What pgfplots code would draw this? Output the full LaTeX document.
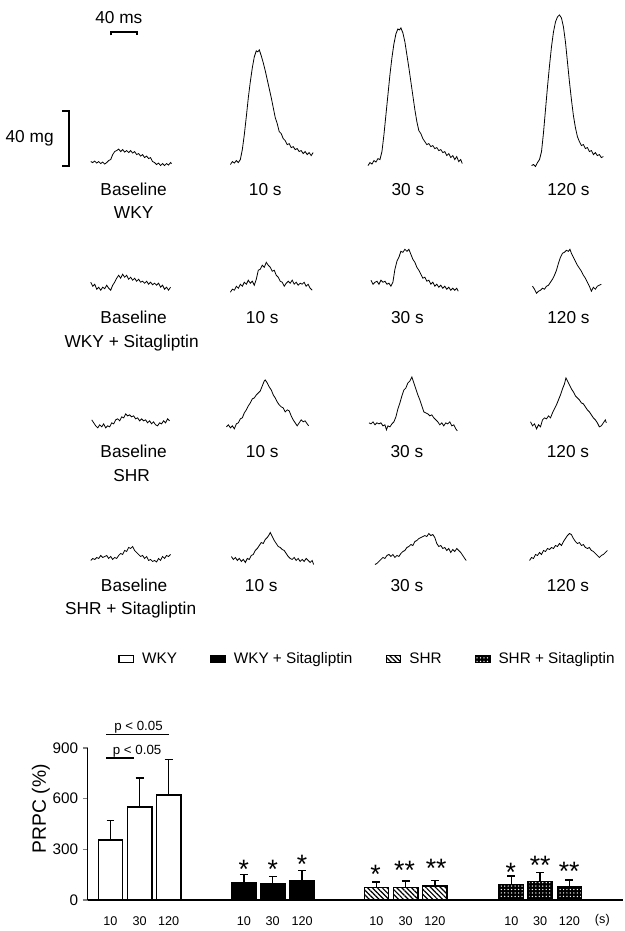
\documentclass[border=0pt]{standalone}
\usepackage{pgfplots}
\pgfplotsset{compat=1.18}
\usetikzlibrary{patterns,patterns.meta}
\usepackage{fontspec}
\setmainfont{Liberation Sans}
\newcommand\lbl{\fontsize{13}{15}\selectfont}
\newcommand\stars{\fontsize{20}{22}\selectfont}
\pgfplotsset{legsym/.style={legend image code/.code={\draw[##1,line width=0.8pt] (0pt,-2.6pt) rectangle (11pt,2.6pt);}}}
\begin{document}
\begin{tikzpicture}
\begin{axis}[at={(0pt,0pt)}, anchor=south west, width=468.75pt, height=698.25pt, scale only axis,
  xmin=0, xmax=625, ymin=0, ymax=931, y dir=reverse, hide axis, clip=false]
\path (axis cs:0,0) rectangle (axis cs:625,931);
% scale bars
\addplot[black, line width=1.5pt, mark=none] coordinates {(111.7,35.5)(111.7,32.3)(137.3,32.3)(137.3,35.5)};
\addplot[black, line width=1.5pt, mark=none] coordinates {(62.3,111.7)(69,111.7)(69,166)(62.3,166)};
\node[font=\lbl, anchor=base] at (axis cs:119.2,23.5) {40 ms};
\node[font=\lbl, anchor=base east] at (axis cs:58.5,143) {40 mg};
% ---------- Row 1: WKY
\addplot[black, line width=0.6pt, mark=none] coordinates {(91,162)(93,163)(95,161.5)(97,163.5)(99,162)(101,164)(103,162.5)(105,164.5)(107,163)(109,161)(111,160)(113,155)(115,152)(117,151)(119,149.5)(121,152)(123,150)(125,152.5)(127,151)(129,153)(131,151)(133,153.5)(135,152)(137,155)(139,154)(141,156.5)(143,155)(145,158)(147,156.5)(149,159)(151,158)(153,162)(155,163)(157,165)(159,163.5)(161,166)(163,164)(165,166)(167,164)(169,165.5)(171,163)(172,164)};
\addplot[black, line width=0.6pt, mark=none] coordinates {(231,165)(233,162)(235,163.5)(237,161)(239,163)(241,160)(243,150)(245,135)(247,117)(249,98)(251,82)(253,68)(255,57)(257,51)(258.5,52)(260,50)(262,56)(264,63)(266,71)(268,80)(270,89)(272,98)(274,108)(276,118)(278,124)(280,132)(282,134)(284,139)(286,141)(288,145)(290,144)(292,148)(294,147)(296,150)(298,149)(300,152)(302,151)(304,154)(306,152)(308,155)(310,153)(312,156)(314,153)};
\addplot[black, line width=0.6pt, mark=none] coordinates {(369,166)(371,163)(373,164.5)(375,161)(377,162.5)(379,159)(381,160)(383,152)(385,135)(387,115)(389,95)(391,75)(393,58)(395,44)(397,34)(399,29)(400.5,30)(402,28)(404,33)(406,42)(408,55)(410,68)(412,82)(414,96)(416,110)(418,122)(420,131)(422,134)(424,139)(426,142)(428,145)(430,144)(432,147)(434,146)(436,149)(438,148)(440,151)(442,150)(444,153)(446,152)(448,156)(450,154)(452,158)(454,156)(456,160)(458,157)(460,162)(462,160)(463.5,164)};
\addplot[black, line width=0.6pt, mark=none] coordinates {(533,166)(535,165)(537,167)(539,163)(541,160)(543,152)(545,133)(547,110)(549,87)(551,66)(553,47)(555,32)(557,22)(559,17)(561,15)(563,18)(565,27)(567,42)(569,62)(571,82)(573,100)(575,116)(577,128)(579,137)(581,142)(583,146)(585,145)(587,149)(589,148)(591,152)(593,151)(595,155)(597,153)(599,156)(601,155)(603,158)(605,157)};
\node[font=\lbl, anchor=base] at (axis cs:134,196.5) {Baseline};
\node[font=\lbl, anchor=base] at (axis cs:134,219.5) {WKY};
\node[font=\lbl, anchor=base] at (axis cs:266,196.5) {10 s};
\node[font=\lbl, anchor=base] at (axis cs:409,196.5) {30 s};
\node[font=\lbl, anchor=base] at (axis cs:570,196.5) {120 s};
% ---------- Row 2: WKY + Sitagliptin
\addplot[black, line width=0.6pt, mark=none] coordinates {(91,283)(93,287)(95,285)(97,290)(99,288)(101,291)(103,288)(105,289.5)(107,286)(109,289)(111,291)(113,286)(115,283)(117,279)(119,276)(121,279)(123,275)(125,278)(127,276)(129,280)(131,278)(133,281)(135,279)(137,282)(139,280)(141,283)(143,282)(145,284)(147,282)(149,285)(151,283)(153,285.5)(155,284)(157,286)(159,284)(161,288)(163,286)(165,290)(167,288)(169,291)(171,288)};
\addplot[black, line width=0.6pt, mark=none] coordinates {(231,293)(233,290)(235,291)(237,287)(239,289)(241,285)(243,287)(245,283)(247,285)(249,281)(251,284)(253,282)(255,286)(257,280)(259,271)(261,270)(263,266)(265,268)(267,263)(269,266)(271,268)(273,272)(275,271)(277,276)(279,278)(281,282)(283,283)(285,287)(287,284)(289,282)(291,284)(293,281)(295,285)(297,283)(299,286)(301,284)(303,285)(305,283)(307,287)(309,285)(311,289)(313,291)};
\addplot[black, line width=0.6pt, mark=none] coordinates {(372,281)(374,285)(376,283)(378,282)(380,285)(382,281)(384,283)(386,282)(388,285)(390,284)(392,287)(394,283)(396,270)(398,262)(400,258)(402,252)(404,253)(406,250)(408,252)(410,250)(412,255)(414,260)(416,263)(418,268)(420,271)(422,275)(424,279)(426,278)(428,282)(430,281)(432,285)(434,283)(436,287)(438,285)(440,288)(442,286)(444,289)(446,287)(448,290)(450,288)(452,291)(454,289)(456,291)(458,289)(459.5,292)};
\addplot[black, line width=0.6pt, mark=none] coordinates {(534,287)(536,290)(538,294)(540,292)(542,291)(544,289)(546,290)(548,287)(550,286)(552,283)(554,280)(556,276)(558,271)(560,264)(562,258)(564,254)(566,253)(568,251)(570,252)(571.5,250)(573,254)(575,258)(577,262)(579,266)(581,269)(583,272)(585,276)(587,279)(589,283)(591,287)(593,292)(595,288)(597,290)(599,287)(601,286)(603,285)};
\node[font=\lbl, anchor=base] at (axis cs:134,324.5) {Baseline};
\node[font=\lbl, anchor=base] at (axis cs:132,348) {WKY + Sitagliptin};
\node[font=\lbl, anchor=base] at (axis cs:263,324.5) {10 s};
\node[font=\lbl, anchor=base] at (axis cs:408.5,324.5) {30 s};
\node[font=\lbl, anchor=base] at (axis cs:570,324.5) {120 s};
% ---------- Row 3: SHR
\addplot[black, line width=0.6pt, mark=none] coordinates {(92,421)(94,424)(96,427)(98,429)(100,426)(102,428)(104,425)(106,429)(108,427)(110,428)(112,424)(114,425)(116,421)(118,420)(120,422)(122,418)(124,419)(126,415)(128,417)(130,416)(132,418)(134,417)(136,420)(138,419)(140,422)(142,420)(144,422)(146,421)(148,424)(150,422)(152,425)(154,423)(156,426)(158,427)(160,424)(162,425)(164,422)(166,424)(168,420)(170,422)};
\addplot[black, line width=0.6pt, mark=none] coordinates {(227,428)(229,426)(231,429)(233,427)(235,430)(237,425)(239,424)(241,420)(243,419)(245,414)(247,411)(249,407)(251,404)(253,400)(255,399)(257,396)(259,394)(261,392)(263,387)(265,382)(266,381)(268,384)(270,388)(272,391)(274,396)(276,399)(278,403)(280,406)(282,408)(284,409)(286,413)(288,411)(290,412)(292,417)(294,421)(296,424)(298,427)(300,424)(302,421)(304,423)(306,422)(308,425)(309.5,427)};
\addplot[black, line width=0.6pt, mark=none] coordinates {(370,424)(372,425)(374,423)(376,426)(378,424)(380,425)(382,424)(384,427)(386,426)(387.5,431)(389,427)(391,428)(393,425)(395,423)(397,418)(399,410)(401,404)(403,397)(405,391)(407,389)(409,384)(411,382)(413,378)(415,384)(417,390)(419,396)(421,401)(423,407)(425,413)(427,414)(429,415)(431,417)(433,416)(435,419)(437,421)(439,423)(441,426)(443,424)(445,427)(447,424)(449,425)(451,423)(453,427)(455,426)(457,430)(458.5,432)};
\addplot[black, line width=0.6pt, mark=none] coordinates {(532,423)(534,427)(536,425)(538,430)(540,426)(542,428)(544,421)(546,419)(548,420)(550,417)(552,419)(554,414)(556,410)(558,406)(560,401)(562,396)(564,390)(566,385)(567.5,379)(569,382)(571,386)(573,390)(575,393)(577,397)(579,399)(581,401)(583,404)(585,405)(587,408)(589,411)(591,413)(593,416)(595,419)(597,421)(599,424)(601,428)(603,427)(605,424)(607,421)(608,424)};
\node[font=\lbl, anchor=base] at (axis cs:134,459) {Baseline};
\node[font=\lbl, anchor=base] at (axis cs:132,482.5) {SHR};
\node[font=\lbl, anchor=base] at (axis cs:263,459) {10 s};
\node[font=\lbl, anchor=base] at (axis cs:408,459) {30 s};
\node[font=\lbl, anchor=base] at (axis cs:569.5,459) {120 s};
% ---------- Row 4: SHR + Sitagliptin
\addplot[black, line width=0.6pt, mark=none] coordinates {(91,562)(93,560)(95,561)(97,559)(99,560)(101,557)(103,559)(105,558)(107,557)(109,560)(111,558)(113,561)(115,559)(117,560)(119,557)(121,555)(123,556)(125,552)(127,553)(129,549)(131,550)(133,548)(135,552)(137,554)(139,556)(141,558)(143,557)(145,560)(147,558)(149,562)(151,561)(153,563)(155,562)(157,563.5)(159,560)(161,562)(163,558)(165,560)(167,557)(169,558)(171,556)};
\addplot[black, line width=0.6pt, mark=none] coordinates {(232,558)(234,561)(236,559)(238,562)(240,560)(242,563)(244,561)(246,564)(248,560)(250,561)(252,557)(254,556)(256,552)(258,550)(260,547)(262,544)(264,545)(266,541)(268,539)(270,536)(271,534)(273,538)(275,542)(277,545)(279,548)(281,549)(283,551)(285,552)(287,555)(289,558)(291,560)(293,561)(295,559)(297,562)(299,560)(301,563)(303,561)(305,563)(307,560)(309,562)(311,564)(313,562)(314.5,566)};
\addplot[black, line width=0.6pt, mark=none] coordinates {(376,566)(378,565)(380,563)(382,561)(384,559)(386,560)(388,557)(390,556)(392,558)(394,556)(396,559)(398,557)(400,558)(402,555)(404,553)(406,552)(408,549)(410,548)(412,546)(414,547)(416,543)(418,542)(420,540)(422,539)(424,538)(426,537)(428,538)(430,535)(432,537)(434,536)(436,539)(438,545)(440,548)(442,547)(444,550)(446,549)(448,552)(450,550)(452,554)(454,551)(456,553)(458,550)(460,552)(462,554)(464,557)(466,560)(467.5,562)};
\addplot[black, line width=0.6pt, mark=none] coordinates {(531,562)(533,559)(535,560)(537,556)(539,557)(541,554)(543,556)(545,552)(547,553)(549,550)(551,551)(553,549)(555,550)(557,547)(559,548)(561,545)(563,547)(565,543)(567,540)(569,537)(571,535)(573,536)(575,540)(577,543)(579,545)(581,544)(583,547)(585,546)(587,549)(589,550)(591,549)(593,552)(595,553)(597,555)(599,557)(601,559)(603,557)(605,556)(607,554)(609,552)};
\node[font=\lbl, anchor=base] at (axis cs:134.5,593) {Baseline};
\node[font=\lbl, anchor=base] at (axis cs:131,616) {SHR + Sitagliptin};
\node[font=\lbl, anchor=base] at (axis cs:262,593) {10 s};
\node[font=\lbl, anchor=base] at (axis cs:408,593) {30 s};
\node[font=\lbl, anchor=base] at (axis cs:569.5,593) {120 s};
% ---------- bar chart annotations
\draw[line width=1.1pt] (axis cs:106.7,736.7) -- (axis cs:169,736.7);
\draw[line width=1.1pt] (axis cs:106.7,760.3) -- (axis cs:134,760.3);
\node[font=\fontsize{10}{12}\selectfont, anchor=base] at (axis cs:138.9,733) {p < 0.05};
\node[font=\fontsize{10}{12}\selectfont, anchor=base] at (axis cs:137.5,756.5) {p < 0.05};
\node[font=\fontsize{14.5}{16}\selectfont, rotate=90, anchor=center] at (axis cs:41,811) {PRPC (\%)};
\node[font=\fontsize{9.5}{11}\selectfont, anchor=base] at (axis cs:604,926.5) {(s)};
\node[font=\stars, anchor=base] at (axis cs:244.5,880.6) {*};
\node[font=\stars, anchor=base] at (axis cs:273.5,880.6) {*};
\node[font=\stars, anchor=base] at (axis cs:303,876) {*};
\node[font=\stars, anchor=base] at (axis cs:376.7,885.6) {*};
\node[font=\stars, anchor=base] at (axis cs:405.7,882.3) {**};
\node[font=\stars, anchor=base] at (axis cs:437.3,879.6) {**};
\node[font=\stars, anchor=base] at (axis cs:512.3,884) {*};
\node[font=\stars, anchor=base] at (axis cs:541.7,876.6) {**};
\node[font=\stars, anchor=base] at (axis cs:570.7,883) {**};
\end{axis}
% ================= Bar chart
\begin{axis}[at={(66pt,21.225pt)}, anchor=south west, width=402.75pt, height=114.525pt, scale only axis,
  xmin=88, xmax=625, ymin=0, ymax=900, clip=false,
  axis x line*=bottom, axis y line*=left, axis line style={line width=1.1pt},
  ytick={0,300,600,900}, tick align=outside, major tick length=3.75pt,
  ytick style={line width=1.1pt},
  xtick={110.8,140,169.2,244.5,273.5,302.9,377.5,406.8,436,512.7,541.7,571},
  xticklabels={10,30,120,10,30,120,10,30,120,10,30,120},
  xtick style={draw=none},
  xticklabel style={font=\fontsize{9.5}{11}\selectfont, yshift=-5pt},
  yticklabel style={font=\fontsize{11.5}{13}\selectfont},
  /pgf/number format/assume math mode=true,
  legend columns=4,
  legend style={draw=none, fill=none, at={(0.523,1.583)}, anchor=center,
    font=\fontsize{11.5}{13}\selectfont,
    /tikz/every odd column/.append style={column sep=4pt},
    /tikz/every even column/.append style={column sep=23pt}},
  legend cell align=left]
\addplot[ybar, bar shift=0pt, bar width=18.3pt, fill=white, draw=black, line width=1.1pt, legsym,
  error bars/y dir=plus, error bars/y explicit, error bars/error bar style={line width=1.1pt},
  error bars/error mark options={rotate=90, mark size=3pt, line width=1.1pt}]
  coordinates {(110.8,356) +- (0,115) (140,552) +- (0,171) (169.2,623) +- (0,208)};
\addlegendentry{WKY}
\addplot[ybar, bar shift=0pt, bar width=18.3pt, fill=black, draw=black, line width=1.1pt, legsym,
  error bars/y dir=plus, error bars/y explicit, error bars/error bar style={line width=1.1pt},
  error bars/error mark options={rotate=90, mark size=3pt, line width=1.1pt}]
  coordinates {(244.5,104) +- (0,47) (273.5,96) +- (0,44) (302.9,114) +- (0,61)};
\addlegendentry{WKY + Sitagliptin}
\addplot[ybar, bar shift=0pt, bar width=18.3pt, draw=black, line width=1.1pt,
  pattern={Lines[angle=-45,distance=2.6pt,line width=0.9pt]}, legsym,
  error bars/y dir=plus, error bars/y explicit, error bars/error bar style={line width=1.1pt},
  error bars/error mark options={rotate=90, mark size=3pt, line width=1.1pt}]
  coordinates {(377.5,75) +- (0,33) (406.8,75) +- (0,39) (436,83) +- (0,35)};
\addlegendentry{SHR}
\addplot[ybar, bar shift=0pt, bar width=18.3pt, fill=black, draw=black, line width=1.1pt,
  postaction={pattern={Dots[distance=2.6pt,radius=0.55pt]}, pattern color=white}, legsym,
  error bars/y dir=plus, error bars/y explicit, error bars/error bar style={line width=1.1pt},
  error bars/error mark options={rotate=90, mark size=3pt, line width=1.1pt}]
  coordinates {(512.7,92) +- (0,51) (541.7,112) +- (0,51) (571,81) +- (0,39)};
\addlegendentry{SHR + Sitagliptin}
\end{axis}
\end{tikzpicture}
\end{document}
